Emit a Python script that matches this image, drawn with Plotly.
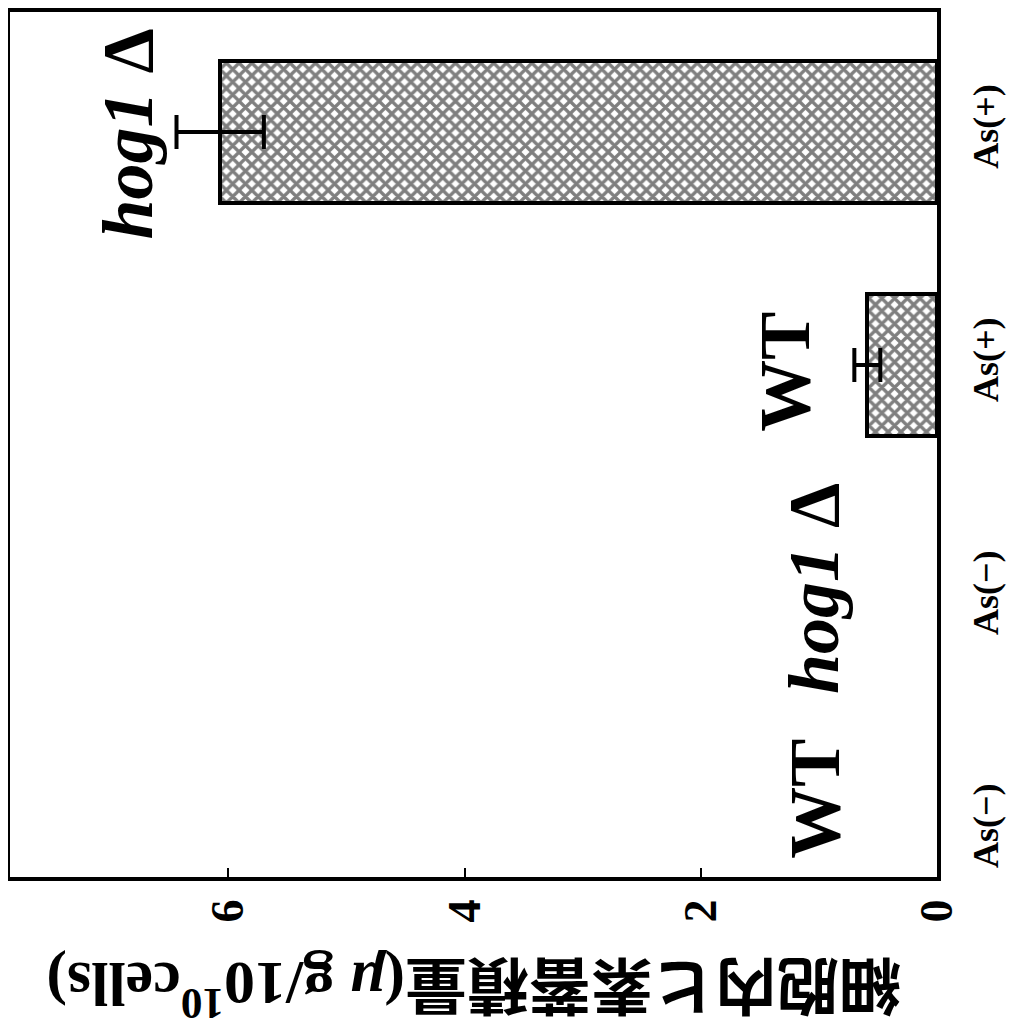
import plotly.graph_objects as go

# ---- data ----
categories = ["WT As(−)", "hog1Δ As(−)", "WT As(+)", "hog1Δ As(+)"]
tick_labels = ["As(−)", "As(−)", "As(+)", "As(+)"]
values = [0.0, 0.0, 0.59, 6.07]
errors = [0.0, 0.0, 0.11, 0.37]
x_ticks = [0, 2, 4, 6]
strain_labels = ["WT", "<i>hog1</i> Δ", "WT", "<i>hog1</i> Δ"]
strain_label_x = [1.03, 1.04, 1.29, 6.85]
strain_label_y = [0.14, 1.04, 1.97, 2.99]
y_title_jp = "細胞内ヒ素蓄積量"
y_title_unit = "(<i>μ</i> g/10<sup>10</sup>cells)"

SERIF = "Liberation Serif"
ypos = list(range(len(categories)))
# zero-height bars draw nothing in the reference
vals_shown = [v if v > 0 else None for v in values]
err_shown = [e if v > 0 else None for e, v in zip(errors, values)]

fig = go.Figure()
fig.add_trace(go.Bar(
    y=ypos, x=vals_shown, orientation="h", width=0.61,
    marker=dict(color="white",
                line=dict(color="black", width=4),
                pattern=dict(shape="x", size=9, solidity=0.6,
                             fgcolor="black", bgcolor="white")),
    error_x=dict(type="data", array=err_shown, color="black",
                 thickness=4, width=17),
    hoverinfo="skip", showlegend=False,
))

for txt, xv, yv in zip(strain_labels, strain_label_x, strain_label_y):
    fig.add_annotation(x=xv, y=yv, xref="x", yref="y", text=txt,
                       showarrow=False, textangle=-90,
                       font=dict(family=SERIF, size=72, color="black",
                                 weight="bold"),
                       xanchor="center", yanchor="middle")

title_text = (y_title_jp +
              "<span style='font-family:Liberation Serif'>"
              + y_title_unit + "</span>")
fig.add_annotation(x=0.5, y=-0.13, xref="paper", yref="paper",
                   text=title_text, showarrow=False, textangle=180,
                   font=dict(family="Noto Sans CJK JP", size=62,
                             color="black", weight="bold"),
                   xanchor="center", yanchor="middle")

fig.update_xaxes(range=[7.85, 0], tickvals=x_ticks,
                 ticktext=[str(t) for t in x_ticks],
                 tickangle=-90, ticks="inside", ticklen=9, tickwidth=2,
                 tickcolor="black", showgrid=False, zeroline=False,
                 showline=True, linecolor="black", linewidth=4, mirror=True,
                 ticklabelstandoff=0, automargin=False,
                 tickfont=dict(family=SERIF, size=46, color="black",
                               weight="bold"))
fig.update_yaxes(range=[-0.197, 3.515], tickvals=ypos, ticktext=tick_labels,
                 side="right", tickangle=-90, ticks="", showgrid=False,
                 zeroline=False, showline=True, linecolor="black",
                 linewidth=4, mirror=True, ticklabelstandoff=14,
                 automargin=False,
                 tickfont=dict(family=SERIF, size=36, color="black",
                               weight="bold"))

# page body has an 8px margin, so the figure is sized to fit the window
fig.update_layout(width=1010, height=1021,
                  margin=dict(l=2, r=81, t=4, b=152),
                  plot_bgcolor="white", paper_bgcolor="white",
                  bargap=0)

fig.write_html("out.html")
